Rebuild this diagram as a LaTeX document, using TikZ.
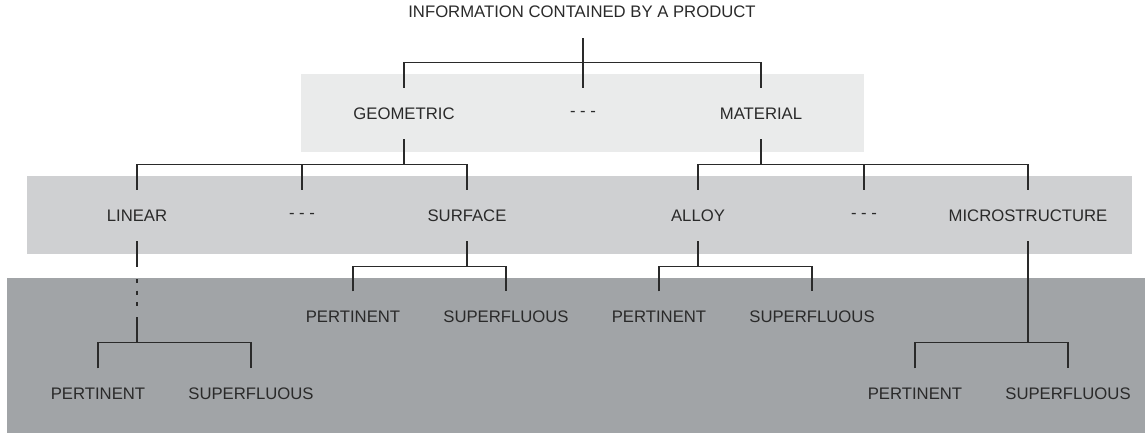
\documentclass[tikz,border=0pt]{standalone}
\usepackage{fontspec}
\setmainfont{Liberation Sans}
\usetikzlibrary{calc}
\definecolor{bandA}{HTML}{EAEBEB}
\definecolor{bandB}{HTML}{CFD0D2}
\definecolor{bandC}{HTML}{A1A4A7}
\definecolor{ink}{HTML}{2A2A2A}
\tikzset{
  lbl/.style={inner sep=0pt, minimum height=51pt, text=ink, font=\fontsize{16.7}{20}\selectfont},
  conn/.style={draw=ink, line width=1.2pt, line join=miter},
}
\begin{document}
\begin{tikzpicture}[x=1pt,y=-1pt]
\useasboundingbox (0,0) rectangle (1145,433);
% bands
\fill[bandA] (301,74) rectangle (864,152);
\fill[bandB] (27,176) rectangle (1132,254);
\fill[bandC] (7,278) rectangle (1145,433);
% nodes
\node[lbl] (title) at (582,12) {INFORMATION CONTAINED BY A PRODUCT};
\node[lbl] (geo) at (404,113.5) {GEOMETRIC};
\node[lbl] (d1) at (583,113.5) {- - -};
\node[lbl] (mat) at (761,113.5) {MATERIAL};
\node[lbl] (lin) at (137,215.5) {LINEAR};
\node[lbl] (d2) at (302,215.5) {- - -};
\node[lbl] (sur) at (467,215.5) {SURFACE};
\node[lbl] (all) at (698,215.5) {ALLOY};
\node[lbl] (d3) at (864,215.5) {- - -};
\node[lbl] (mic) at (1028,215.5) {MICROSTRUCTURE};
\node[lbl] (sp) at (353,317) {PERTINENT};
\node[lbl] (ss) at (506,317) {SUPERFLUOUS};
\node[lbl] (ap) at (659,317) {PERTINENT};
\node[lbl] (as) at (812,317) {SUPERFLUOUS};
\node[lbl] (lp) at (98,394) {PERTINENT};
\node[lbl] (ls) at (251,394) {SUPERFLUOUS};
\node[lbl] (mp) at (915,394) {PERTINENT};
\node[lbl] (ms) at (1068,394) {SUPERFLUOUS};
\coordinate (la) at (137,267);
\coordinate (lb) at (137,317);
% connectors
\draw[conn] (d1.north) -- (d1.north |- title.south);
\draw[conn] (geo.north) -- ++(0,-25.5) -| (mat.north);
\draw[conn] (geo.south) -- ++(0,25);
\draw[conn] (lin.north) -- ++(0,-25.5) -| (sur.north);
\draw[conn] (d2.north) -- ++(0,-25.5);
\draw[conn] (mat.south) -- ++(0,25);
\draw[conn] (all.north) -- ++(0,-25.5) -| (mic.north);
\draw[conn] (d3.north) -- ++(0,-25.5);
\draw[conn] (sur.south) -- ++(0,26);
\draw[conn] (sp.north) -- ++(0,-25) -| (ss.north);
\draw[conn] (all.south) -- ++(0,26);
\draw[conn] (ap.north) -- ++(0,-25) -| (as.north);
\draw[conn] (lin.south) -- (la);
\draw[conn, dash pattern=on 4pt off 7.5pt] (137,279) -- (137,306);
\draw[conn] (lb) -- ++(0,26);
\draw[conn] (lp.north) -- ++(0,-25.5) -| (ls.north);
\draw[conn] (mic.south) -- ++(0,102);
\draw[conn] (mp.north) -- ++(0,-25.5) -| (ms.north);
\end{tikzpicture}
\end{document}
